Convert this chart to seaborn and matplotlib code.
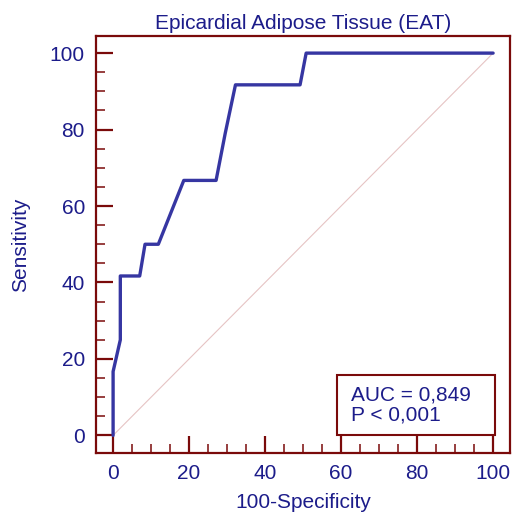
import numpy as np
import matplotlib
matplotlib.use("Agg")
import matplotlib.pyplot as plt
import pandas as pd
import seaborn as sns
from matplotlib.ticker import MultipleLocator
from matplotlib.patches import Rectangle

# ROC curve points (100-Specificity, Sensitivity)
fpr = [0, 0, 1.9, 1.9, 7.0, 8.4, 11.9, 18.6, 27.1, 29.5, 32.2, 49.2, 50.8, 100]
tpr = [0, 16.7, 25.0, 41.7, 41.7, 50.0, 50.0, 66.7, 66.7, 79.0, 91.7, 91.7, 100, 100]
auc_text = "AUC = 0,849"
p_text = "P < 0,001"

sns.set_theme(style="ticks")
plt.rcParams['font.family'] = ['Liberation Sans', 'DejaVu Sans']

dark_red = '#7a0a0a'
navy = '#1c1c8a'
curve_col = '#3636a2'
fs = 15

df = pd.DataFrame({"fpr": fpr, "tpr": tpr})

fig = plt.figure(figsize=(5.12, 5.13), dpi=100)
ax = fig.add_axes([0.1875, 0.117, 0.809, 0.813])

# reference diagonal
ax.plot([0, 100], [0, 100], color='#e6c4c4', lw=0.8, zorder=1)
sns.lineplot(data=df, x="fpr", y="tpr", sort=False, estimator=None,
             color=curve_col, lw=2.4, ax=ax, zorder=3)

ax.set_xlim(-4.5, 104.5)
ax.set_ylim(-4.6, 104.5)
ax.xaxis.set_major_locator(MultipleLocator(20))
ax.yaxis.set_major_locator(MultipleLocator(20))
ax.xaxis.set_minor_locator(MultipleLocator(5))
ax.yaxis.set_minor_locator(MultipleLocator(5))

for sp in ax.spines.values():
    sp.set_color(dark_red)
    sp.set_linewidth(1.6)
    sp.set_visible(True)

ax.tick_params(which='major', direction='in', length=12, width=1.6,
               color=dark_red, labelcolor=navy, labelsize=fs, pad=8)
ax.tick_params(which='minor', direction='in', length=6.5, width=1.1,
               color=dark_red)

ax.set_xlabel("100-Specificity", color=navy, fontsize=fs, labelpad=7)
ax.set_ylabel("Sensitivity", color=navy, fontsize=fs, labelpad=14)
ax.set_title("Epicardial Adipose Tissue (EAT)", color=navy, fontsize=fs, pad=5)

# AUC box
ax.add_patch(Rectangle((59.0, 0.0), 41.5, 15.8, fc='white', ec=dark_red,
                       lw=1.5, zorder=4))
ax.text(62.6, 7.9, auc_text + "\n" + p_text, color=navy, fontsize=fs,
        linespacing=1.1, va='center', ha='left', zorder=5)

fig.savefig("out.png", dpi=100)
